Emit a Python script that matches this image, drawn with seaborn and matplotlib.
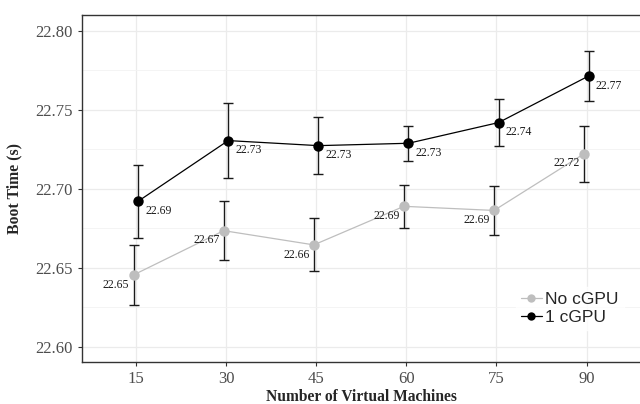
import numpy as np
import pandas as pd
import matplotlib
matplotlib.use("Agg")
import matplotlib.pyplot as plt
import seaborn as sns
from matplotlib.ticker import MultipleLocator, FormatStrFormatter

vms = [15, 30, 45, 60, 75, 90]
no_cgpu = [22.6456, 22.6736, 22.6646, 22.6890, 22.6864, 22.7223]
no_cgpu_err = [0.019, 0.0185, 0.0167, 0.0138, 0.0157, 0.0178]
one_cgpu = [22.6922, 22.7306, 22.7274, 22.7289, 22.7420, 22.7715]
one_cgpu_err = [0.023, 0.0235, 0.018, 0.011, 0.0146, 0.0158]
series_names = ["No cGPU", "1 cGPU"]

df = pd.DataFrame({
    "vms": vms * 2,
    "time": no_cgpu + one_cgpu,
    "err": no_cgpu_err + one_cgpu_err,
    "series": [series_names[0]] * len(vms) + [series_names[1]] * len(vms),
})
dodge = {series_names[0]: -0.4, series_names[1]: 0.35}
df["xpos"] = df["vms"] + df["series"].map(dodge)

sns.set_theme(style="white")
plt.rcParams["font.family"] = ["Liberation Serif", "DejaVu Serif"]

fig = plt.figure(figsize=(6.4, 4.04), dpi=100)
ax = fig.add_axes([0.128, 0.104, 0.874, 0.859])

palette = {series_names[0]: "#BEBEBE", series_names[1]: "#000000"}

# grid
ax.set_axisbelow(True)
ax.yaxis.set_major_locator(MultipleLocator(0.05))
ax.yaxis.set_minor_locator(MultipleLocator(0.025))
ax.yaxis.set_major_formatter(FormatStrFormatter("%.2f"))
ax.set_xticks(vms)
ax.grid(which="major", axis="both", color="#EBEBEB", linewidth=0.9)
ax.grid(which="minor", axis="y", color="#F3F3F3", linewidth=0.6)

for name in series_names:
    sub = df[df["series"] == name]
    ax.errorbar(sub["xpos"], sub["time"], yerr=sub["err"], fmt="none",
                ecolor="#1a1a1a", elinewidth=1.0, capsize=3.5, capthick=1.0, zorder=2)

sns.lineplot(data=df, x="xpos", y="time", hue="series", hue_order=series_names,
             palette=palette, marker="o", markersize=7.5, markeredgewidth=0,
             linewidth=0.9, ax=ax, zorder=3, legend=True)

# value labels
for _, r in df.iterrows():
    lab = f"{r['time']:.2f}"
    if r["series"] == series_names[1]:
        ax.annotate(lab, (r["xpos"], r["time"]), xytext=(5, -7), textcoords="offset points",
                    ha="left", va="center", fontsize=8.5, color="#1a1a1a")
    else:
        ax.annotate(lab, (r["xpos"], r["time"]), xytext=(-3, -7), textcoords="offset points",
                    ha="right", va="center", fontsize=8.5, color="#1a1a1a")

ax.set_xlim(6, 99.1)
ax.set_ylim(22.5905, 22.8101)
ax.set_xlabel("Number of Virtual Machines", fontsize=11.2, fontweight="bold")
ax.set_ylabel("Boot Time (s)", fontsize=11.3, fontweight="bold")
ax.xaxis.set_label_coords(0.5, -0.078)
ax.yaxis.set_label_coords(-0.106, 0.5)
ax.tick_params(axis="both", which="major", labelsize=12, labelcolor="#4D4D4D",
               length=3, width=0.8, color="#333333", left=True, bottom=True)
ax.tick_params(axis="y", which="minor", length=0)
for s in ["left", "bottom", "top"]:
    ax.spines[s].set_color("#333333")
    ax.spines[s].set_linewidth(1.0)
ax.spines["right"].set_visible(False)

leg = ax.legend(title=None, loc="center", bbox_to_anchor=(0.872, 0.155), frameon=True,
                prop={"family": "Liberation Sans", "size": 12.5},
                handlelength=1.2, handletextpad=0.2, labelspacing=0.15,
                borderpad=0.3, fancybox=False)
leg.get_frame().set_edgecolor("white")
leg.get_frame().set_facecolor("white")
for h in leg.legend_handles:
    h.set_markersize(6)

fig.savefig("out.png", dpi=100)
